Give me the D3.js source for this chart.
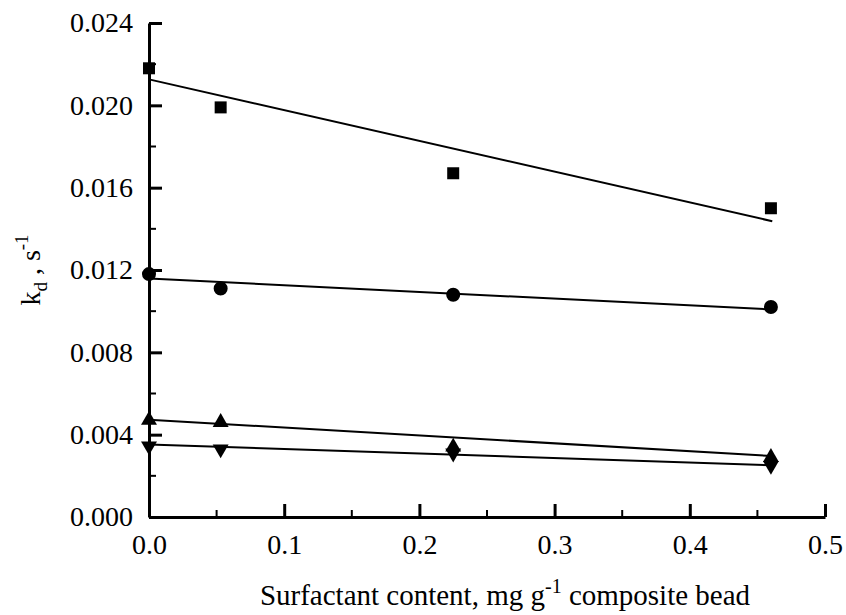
<!DOCTYPE html>
<html>
<head>
<meta charset="utf-8">
<script src="https://cdn.jsdelivr.net/npm/d3@7"></script>
<style>
  body { margin: 0; background: #fff; }
  svg text { font-family: "Liberation Serif", "Times New Roman", serif; }
</style>
</head>
<body>
<div id="chart"></div>
<script>
// data
var surfactant = [0, 0.053, 0.225, 0.46];
var kdSquare   = [0.0218, 0.0199, 0.0167, 0.0150];
var kdCircle   = [0.0118, 0.0111, 0.0108, 0.0102];
var kdUp       = [0.0047, 0.0046, 0.0034, 0.0029];
var kdDown     = [0.00345, 0.0033, 0.0031, 0.0025];

// fitted lines, end points [x0, y0, x1, y1]
var fitSquare = [0, 0.02126, 0.461, 0.01437];
var fitCircle = [0, 0.01159, 0.461, 0.01008];
var fitUp     = [0, 0.00473, 0.461, 0.00296];
var fitDown   = [0, 0.00352, 0.461, 0.00251];

var xTicks = [0, 0.1, 0.2, 0.3, 0.4, 0.5];
var yTicks = [0, 0.004, 0.008, 0.012, 0.016, 0.020, 0.024];

// set the dimensions and margins of the graph
var margin = {top: 23, right: 21, bottom: 98, left: 149},
    width = 846 - margin.left - margin.right,
    height = 615 - margin.top - margin.bottom;

var svg = d3.select("#chart")
  .append("svg")
    .attr("width", 846)
    .attr("height", 615)
  .append("g")
    .attr("transform", "translate(" + margin.left + "," + margin.top + ")");

var x = d3.scaleLinear().domain([0, 0.5]).range([0, width]);
var y = d3.scaleLinear().domain([0, 0.024]).range([height, 0]);

// minor ticks
svg.append("g")
  .selectAll("line.xm")
  .data(d3.range(0.05, 0.5, 0.1))
  .enter().append("line")
    .attr("x1", function(d) { return x(d); })
    .attr("x2", function(d) { return x(d); })
    .attr("y1", height)
    .attr("y2", height - 7)
    .style("stroke", "#000")
    .style("stroke-width", 2);
svg.append("g")
  .selectAll("line.ym")
  .data(d3.range(0.002, 0.024, 0.004))
  .enter().append("line")
    .attr("x1", 0)
    .attr("x2", 7)
    .attr("y1", function(d) { return y(d); })
    .attr("y2", function(d) { return y(d); })
    .style("stroke", "#000")
    .style("stroke-width", 2);

// Add X axis
var xAxis = svg.append("g")
  .attr("transform", "translate(0," + height + ")")
  .call(d3.axisBottom(x).tickValues(xTicks).tickFormat(d3.format(".1f"))
    .tickSizeInner(-13).tickSizeOuter(0).tickPadding(17));
xAxis.attr("font-family", null).attr("font-size", null);
xAxis.select(".domain").style("stroke-width", 3);
xAxis.selectAll(".tick line").style("stroke-width", 3);
xAxis.selectAll("text").style("font-size", "28px");

// Add Y axis
var yAxis = svg.append("g")
  .call(d3.axisLeft(y).tickValues(yTicks).tickFormat(d3.format(".3f"))
    .tickSizeInner(-13).tickSizeOuter(0).tickPadding(16));
yAxis.attr("font-family", null).attr("font-size", null);
yAxis.select(".domain").style("stroke-width", 3);
yAxis.selectAll(".tick line").style("stroke-width", 3);
yAxis.selectAll("text").style("font-size", "28px");

// fit lines
[fitSquare, fitCircle, fitUp, fitDown].forEach(function(f) {
  svg.append("line")
    .attr("x1", x(f[0])).attr("y1", y(f[1]))
    .attr("x2", x(f[2])).attr("y2", y(f[3]))
    .style("stroke", "#000")
    .style("stroke-width", 2);
});

// markers
function addPoints(vals, type, size, rot) {
  svg.append("g")
    .selectAll("path")
    .data(vals)
    .enter().append("path")
      .attr("d", d3.symbol().type(type).size(size))
      .attr("transform", function(d, i) {
        return "translate(" + x(surfactant[i]) + "," + y(d) + ") rotate(" + rot + ")";
      })
      .style("fill", "#000");
}
addPoints(kdSquare, d3.symbolSquare, 144, 0);
addPoints(kdCircle, d3.symbolCircle, 154, 0);
addPoints(kdUp, d3.symbolTriangle, 110, 0);
addPoints(kdDown, d3.symbolTriangle, 110, 180);

// X axis title
var xt = svg.append("text")
  .attr("x", 356)
  .attr("y", height + 88)
  .attr("text-anchor", "middle")
  .style("font-size", "29px");
xt.append("tspan").text("Surfactant content, mg g");
xt.append("tspan").attr("dy", -12).style("font-size", "20px").text("-1");
xt.append("tspan").attr("dy", 12).text(" composite bead");

// Y axis title
var yt = svg.append("text")
  .attr("transform", "translate(" + (40 - margin.left) + "," + (270 - margin.top) + ") rotate(-90)")
  .attr("text-anchor", "middle")
  .style("font-size", "28px");
yt.append("tspan").text("k");
yt.append("tspan").attr("dy", 7).style("font-size", "19px").text("d");
yt.append("tspan").attr("dy", -7).text(" , s");
yt.append("tspan").attr("dy", -12).style("font-size", "19px").text("-1");
</script>
</body>
</html>
